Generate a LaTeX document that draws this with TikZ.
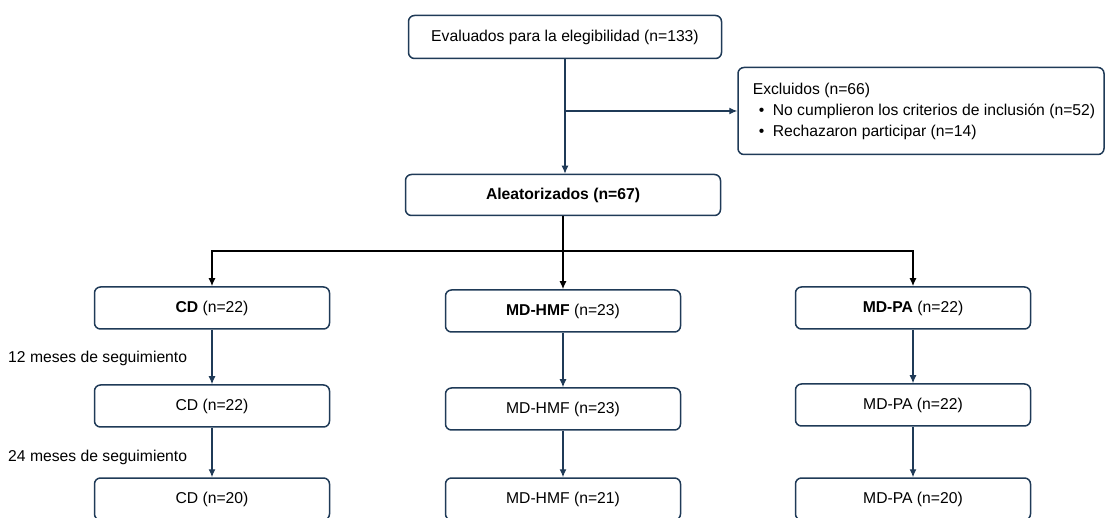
\documentclass[tikz,border=0pt]{standalone}
\usepackage{fontspec}
\setmainfont{Liberation Sans}
\usepackage{xcolor}
\usetikzlibrary{arrows,arrows.meta,positioning,calc}

\definecolor{navy}{HTML}{1F3A57}

\begin{document}
\begin{tikzpicture}[x=1pt, y=-1pt, font=\fontsize{15.7}{21}\selectfont,
    box/.style={draw=navy, line width=1.5pt, rounded corners=6pt, minimum width=313pt, minimum height=43pt, inner sep=0pt},
    grp/.style={box, minimum width=235pt, minimum height=42pt},
    flow/.style={-{Latex[length=8pt,width=7pt]}, draw=navy, line width=1.2pt},
    branch/.style={-{Latex[length=8pt,width=7pt]}, draw=black, line width=1.5pt}]
    \useasboundingbox (0,0) rectangle (1106,518);

    \node[box] (eval) at (565, 37) {Evaluados para la elegibilidad (n=133)};
    \node[box, minimum width=366pt, minimum height=87pt, align=left] (excl) at (921, 111)
        {\hspace*{6pt}Excluidos (n=66)\\
         \hspace*{12pt}\textbullet\hspace{8.5pt}No cumplieron los criterios de inclusión (n=52)\\
         \hspace*{12pt}\textbullet\hspace{8.5pt}Rechazaron participar (n=14)};
    \node[box, minimum width=315pt, minimum height=41pt] (rand) at (563, 195) {\textbf{Aleatorizados (n=67)}};

    \node[grp] (cd1) at (212, 308) {\textbf{CD} (n=22)};
    \node[grp] (hmf1) at (563, 311) {\textbf{MD-HMF} (n=23)};
    \node[grp] (pa1) at (913, 308) {\textbf{MD-PA} (n=22)};

    \node[grp] (cd2) at (212, 406) {CD (n=22)};
    \node[grp] (hmf2) at (563, 409) {MD-HMF (n=23)};
    \node[grp] (pa2) at (913, 405) {MD-PA (n=22)};

    \node[grp] (cd3) at (212, 499) {CD (n=20)};
    \node[grp] (hmf3) at (563, 499) {MD-HMF (n=21)};
    \node[grp] (pa3) at (913, 499) {MD-PA (n=20)};

    \node[anchor=west, inner sep=0pt] (fu12) at (8, 358) {12 meses de seguimiento};
    \node[anchor=west, inner sep=0pt] (fu24) at (8, 457) {24 meses de seguimiento};

    \coordinate (split) at (eval.south |- excl.west);
    \coordinate (fork) at ($(rand.south) + (0, 35)$);

    \draw[flow] (eval) -- (eval |- rand.north);
    \draw[flow] (split) -- (excl.west);

    \draw[draw=black, line width=1.5pt] (rand.south) -- (fork);
    \draw[branch] (fork) -| (cd1.north);
    \draw[branch] (fork) -- (fork |- hmf1.north);
    \draw[branch] (fork) -| (pa1.north);

    \draw[flow] (cd1) -- (cd2);
    \draw[flow] (cd2) -- (cd3);
    \draw[flow] (hmf1) -- (hmf2);
    \draw[flow] (hmf2) -- (hmf3);
    \draw[flow] (pa1) -- (pa2);
    \draw[flow] (pa2) -- (pa3);
\end{tikzpicture}
\end{document}
